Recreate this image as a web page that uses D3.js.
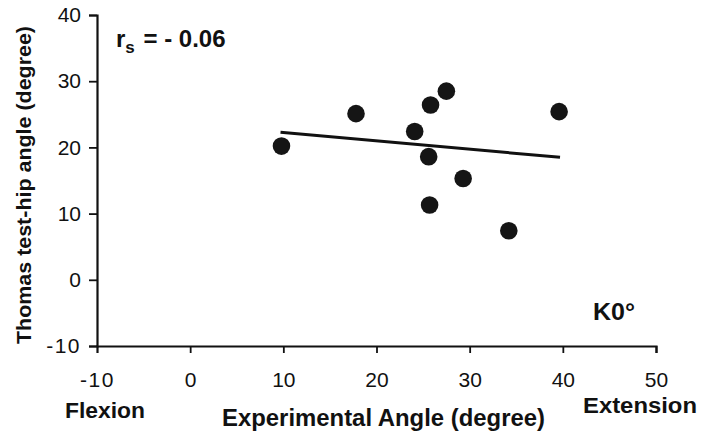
<!DOCTYPE html>
<html>
<head>
<meta charset="utf-8">
<script src="https://cdn.jsdelivr.net/npm/d3@7"></script>
<style>
  body { margin: 0; background: #fff; }
  text { font-family: "Liberation Sans", Arial, sans-serif; fill: #111; }
</style>
</head>
<body>
<div id="chart"></div>
<script>
// values
const expAngle = [9.8, 17.8, 24.1, 25.8, 27.5, 25.6, 29.3, 25.7, 34.2, 39.6];
const hipAngle = [20.2, 25.1, 22.4, 26.4, 28.5, 18.6, 15.3, 11.3, 7.4, 25.4];
const fitX = [9.7, 39.7];
const fitY = [22.3, 18.5];
const xTicks = [-10, 0, 10, 20, 30, 40, 50];
const yTicks = [-10, 0, 10, 20, 30, 40];

const W = 702, H = 438;
const margin = { left: 97, right: 46, top: 15, bottom: 92 };

const svg = d3.select("#chart").append("svg")
    .attr("width", W).attr("height", H);

const x = d3.scaleLinear().domain([-10, 50]).range([margin.left, W - margin.right]);
const y = d3.scaleLinear().domain([-10, 40]).range([H - margin.bottom, margin.top]);

const fmt = d => String(d); // plain hyphen for negatives

// axes
const xAxis = svg.append("g")
    .attr("transform", `translate(0,${y(-10)})`)
    .call(d3.axisBottom(x).tickValues(xTicks).tickSize(7).tickPadding(19).tickFormat(fmt));
const yAxis = svg.append("g")
    .attr("transform", `translate(${x(-10)},0)`)
    .call(d3.axisLeft(y).tickValues(yTicks).tickSize(8).tickPadding(8).tickFormat(fmt));

[xAxis, yAxis].forEach(a => {
    a.select(".domain").attr("stroke", "#111").attr("stroke-width", 2.2);
    a.selectAll(".tick line").attr("stroke", "#111").attr("stroke-width", 1.8);
    a.selectAll(".tick text").style("font-size", "21px").attr("fill", "#111");
    a.selectAll(".tick").filter(d => d < 0).select("text").style("letter-spacing", "1.5px");
});
xAxis.selectAll(".tick").filter(d => d === -10).select("line").remove();

// regression line
svg.append("path")
    .datum(fitX.map((v, i) => [v, fitY[i]]))
    .attr("fill", "none")
    .attr("stroke", "#111")
    .attr("stroke-width", 3)
    .attr("d", d3.line().x(d => x(d[0])).y(d => y(d[1])));

// points
svg.append("g").selectAll("circle")
    .data(expAngle.map((v, i) => [v, hipAngle[i]]))
    .join("circle")
    .attr("cx", d => x(d[0]))
    .attr("cy", d => y(d[1]))
    .attr("r", 8.8)
    .attr("fill", "#151515");

// annotations
const rs = svg.append("text")
    .attr("x", 116).attr("y", 47)
    .style("font-size", "24px").style("font-weight", "bold");
rs.append("tspan").text("r");
rs.append("tspan").attr("dy", 6).style("font-size", "17px").text("s");
rs.append("tspan").attr("dy", -6).attr("dx", 2).text(" = - 0.06");

svg.append("text")
    .attr("x", 593).attr("y", 320)
    .attr("textLength", 42).attr("lengthAdjust", "spacingAndGlyphs")
    .style("font-size", "23px").style("font-weight", "bold")
    .text("K0°");

// axis titles
svg.append("text")
    .attr("transform", `translate(31,185) rotate(-90)`)
    .attr("text-anchor", "middle")
    .attr("textLength", 318).attr("lengthAdjust", "spacingAndGlyphs")
    .style("font-size", "20px").style("font-weight", "bold")
    .text("Thomas test-hip angle (degree)");

svg.append("text")
    .attr("x", 222).attr("y", 426)
    .attr("textLength", 323).attr("lengthAdjust", "spacingAndGlyphs")
    .style("font-size", "23px").style("font-weight", "bold")
    .text("Experimental Angle (degree)");

svg.append("text")
    .attr("x", 65).attr("y", 418)
    .attr("textLength", 80).attr("lengthAdjust", "spacingAndGlyphs")
    .style("font-size", "22px").style("font-weight", "bold")
    .text("Flexion");

svg.append("text")
    .attr("x", 583).attr("y", 413)
    .attr("textLength", 114).attr("lengthAdjust", "spacingAndGlyphs")
    .style("font-size", "22px").style("font-weight", "bold")
    .text("Extension");
</script>
</body>
</html>
